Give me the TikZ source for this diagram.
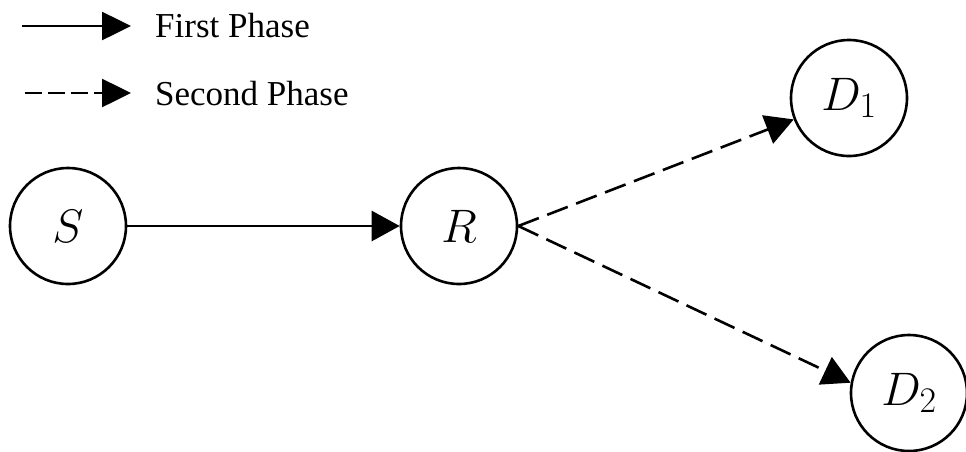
\RequirePackage{fix-cm}
\documentclass[tikz,border=0pt]{standalone}
\usepackage{fontspec}
\setmainfont{Liberation Serif}
\usetikzlibrary{arrows.meta}
\newcommand{\subnum}[1]{\mbox{\fontsize{36}{36}\selectfont$#1$}}
\begin{document}
\begin{tikzpicture}[x=1pt,y=-1pt,
  nd/.style={circle,draw,line width=2.6pt,minimum size=116pt,inner sep=0pt,font=\fontsize{47}{50}\selectfont},
  conn/.style={line width=2.6pt,-{Triangle[length=28pt,width=30pt]}},
  dsh/.style={conn,dash pattern=on 22pt off 9pt},
  leg/.style={line width=2.6pt,-{Triangle[length=29pt,width=28pt]}},
  legdsh/.style={leg,dash pattern=on 17pt off 6pt},
  lab/.style={anchor=base west,font=\fontsize{35}{40}\selectfont,inner sep=0pt}]
\useasboundingbox (0,0) rectangle (966,451);
% legend
\coordinate (l1a) at (22,26);
\coordinate (l1b) at (131,26);
\coordinate (l2a) at (25,93);
\coordinate (l2b) at (131,93);
\draw[leg] (l1a) -- (l1b);
\draw[legdsh] (l2a) -- (l2b);
\node[lab] (t1) at (155,37) {First Phase};
\node[lab] (t2) at (155,105) {Second Phase};
% nodes
\node[nd] (S) at (68,226) {$S$};
\node[nd] (R) at (459,226) {$R$};
\node[nd] (D1) at (849,98) {$D_{\subnum{1}}$};
\node[nd] (D2) at (909,393) {$D_{\subnum{2}}$};
% connectors
\draw[conn] (S) -- (R);
\draw[dsh] (R.east) -- (D1);
\draw[dsh] (R.east) -- (D2.170);
\end{tikzpicture}
\end{document}
